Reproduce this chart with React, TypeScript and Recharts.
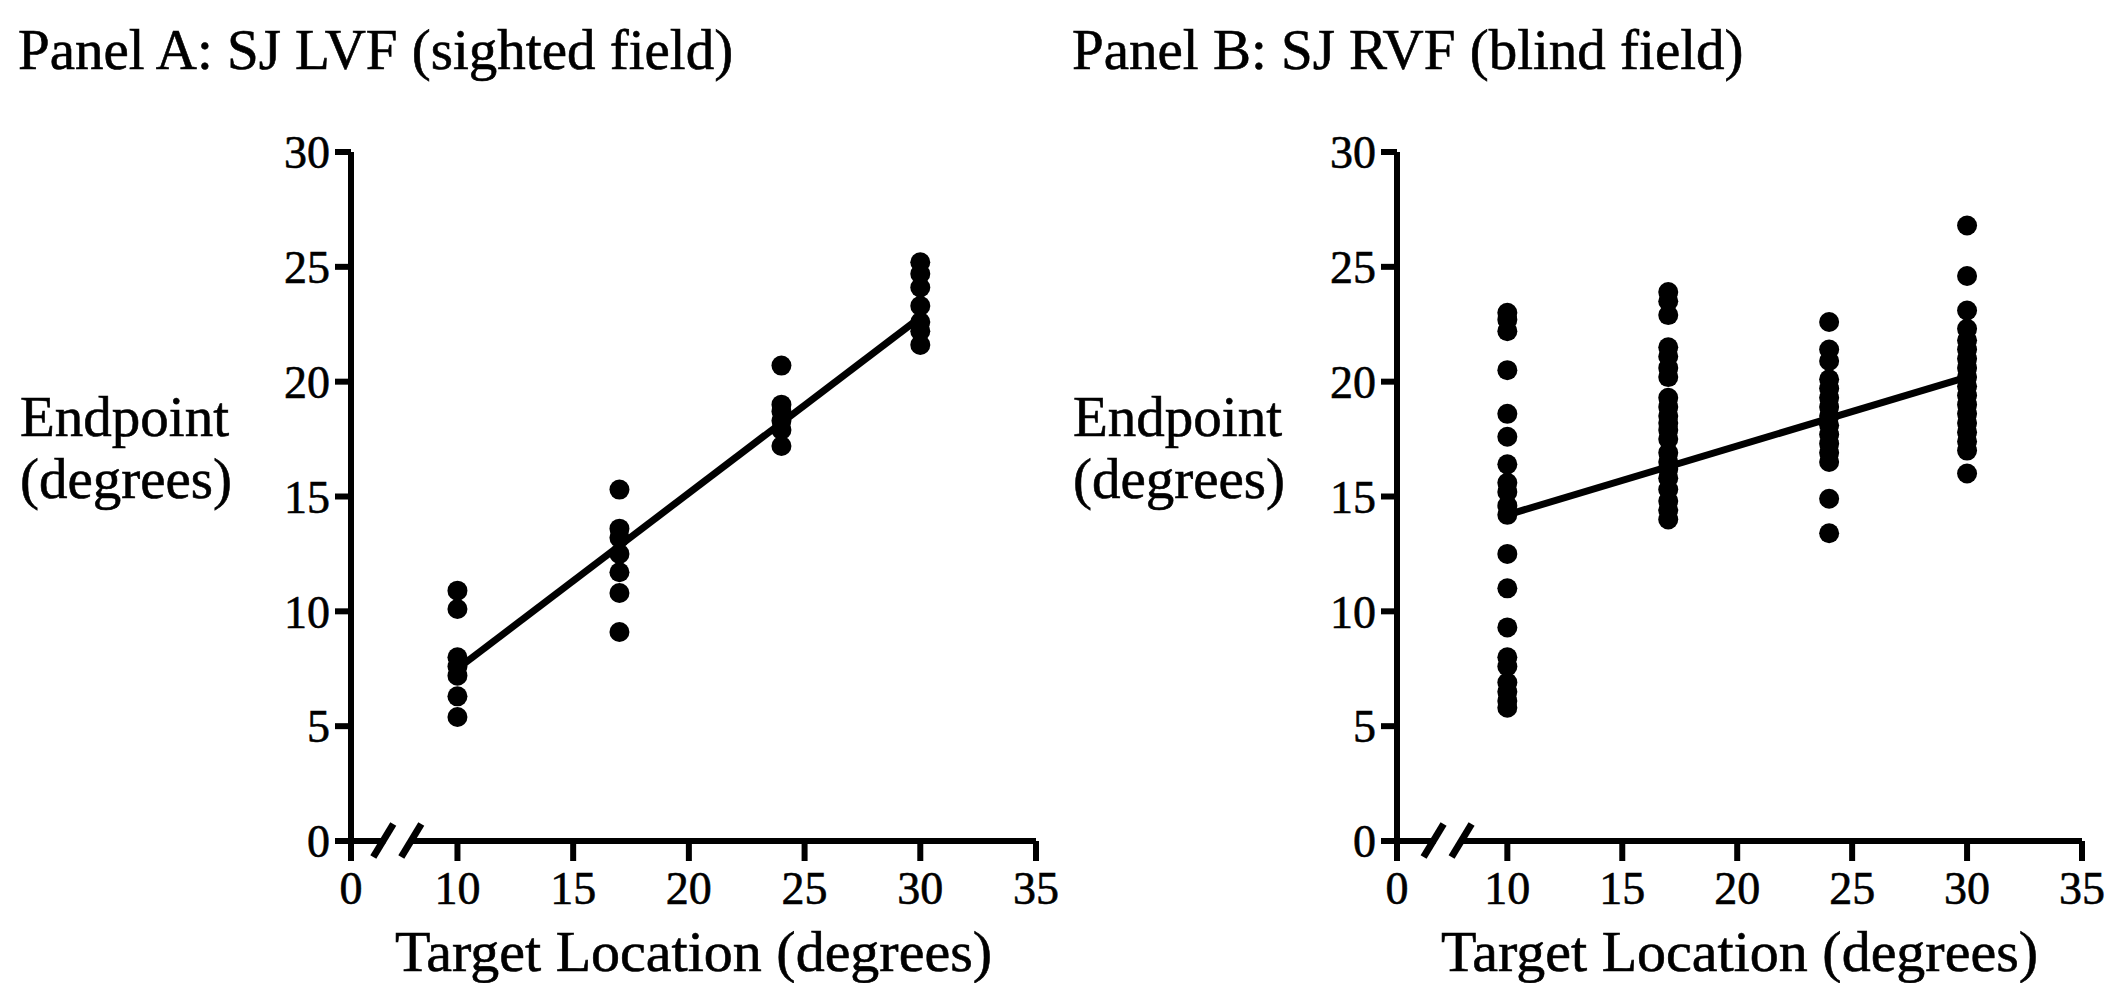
import { ScatterChart, Scatter, XAxis, YAxis, ReferenceDot, Label } from "recharts";

const FONT = '"Liberation Serif", "Times New Roman", serif';

const TARGETS = [10, 17, 24, 30];
const X_TICKS = [10, 15, 20, 25, 30, 35];
const Y_TICKS = [0, 5, 10, 15, 20, 25, 30];
const FIT_X = [10, 30];

// Panel A: sighted field, endpoints per target location
const sightedAt10 = [10.9, 10.1, 8.0, 7.6, 7.2, 6.3, 5.4];
const sightedAt17 = [15.3, 13.6, 13.2, 12.5, 11.7, 10.8, 9.1];
const sightedAt24 = [20.7, 19.0, 18.7, 18.3, 17.9, 17.2];
const sightedAt30 = [25.2, 24.7, 24.1, 23.3, 22.6, 22.2, 21.6];
const sightedFit = [7.5, 22.8];

// Panel B: blind field
const blindAt10 = [23.0, 22.7, 22.2, 20.5, 18.6, 17.6, 16.4, 15.6, 15.2, 14.6, 14.2, 12.5, 11.0, 9.3, 8.0, 7.6, 6.9, 6.5, 6.1, 5.8];
const blindAt17 = [23.9, 23.5, 22.9, 21.5, 21.1, 20.6, 20.2, 19.3, 18.9, 18.5, 18.2, 17.9, 17.5, 16.9, 16.5, 16.2, 15.8, 15.3, 14.8, 14.4, 14.0];
const blindAt24 = [22.6, 21.4, 20.9, 20.1, 19.7, 19.3, 18.9, 18.5, 18.1, 17.7, 17.3, 16.9, 16.5, 14.9, 13.4];
const blindAt30 = [26.8, 24.6, 23.1, 22.3, 21.8, 21.4, 21.0, 20.6, 20.2, 19.8, 19.4, 19.0, 18.6, 18.2, 17.8, 17.4, 17.0, 16.0];
const blindFit = [14.2, 20.2];

const toPoints = (groups: number[][]) =>
    groups.flatMap((vals, i) => vals.map((y) => ({ x: TARGETS[i], y })));

const sightedPoints = toPoints([sightedAt10, sightedAt17, sightedAt24, sightedAt30]);
const blindPoints = toPoints([blindAt10, blindAt17, blindAt24, blindAt30]);
const sightedLine = FIT_X.map((x, i) => ({ x, y: sightedFit[i] }));
const blindLine = FIT_X.map((x, i) => ({ x, y: blindFit[i] }));

const AXIS = { stroke: "#000", strokeWidth: 6 };
const TICK = { fill: "#000", fontSize: 46, fontFamily: FONT, stroke: "#000", strokeWidth: 0.6 };

const Dot = (p: any) => <circle cx={p.cx} cy={p.cy} r={10} fill="#000" />;

const BreakMark = (p: any) => {
    const { cx, cy } = p;
    return (
        <g>
            <rect x={cx - 12} y={cy - 5} width={26} height={10} fill="#fff" />
            <line x1={cx - 24} y1={cy + 16} x2={cx - 4} y2={cy - 17} stroke="#000" strokeWidth={7} />
            <line x1={cx + 4} y1={cy + 16} x2={cx + 24} y2={cy - 17} stroke="#000" strokeWidth={7} />
        </g>
    );
};

function Panel({ points, line, xBreak, width, margin }: any) {
    return (
        <ScatterChart width={width} height={983} margin={margin}>
            <XAxis
                type="number"
                dataKey="x"
                domain={[xBreak, 35]}
                ticks={[xBreak, ...X_TICKS]}
                tickFormatter={(v) => (v === xBreak ? "0" : String(v))}
                allowDataOverflow
                interval={0}
                height={60}
                tickSize={20}
                tickMargin={10}
                axisLine={AXIS}
                tickLine={AXIS}
                tick={TICK}
            >
                <Label
                    value="Target Location (degrees)"
                    position="bottom"
                    offset={29}
                    fill="#000"
                    stroke="#000"
                    strokeWidth={0.6}
                    fontSize={58}
                    fontFamily={FONT}
                />
            </XAxis>
            <YAxis
                type="number"
                dataKey="y"
                domain={[0, 30]}
                ticks={Y_TICKS}
                interval={0}
                width={70}
                tickSize={16}
                tickMargin={5}
                axisLine={AXIS}
                tickLine={AXIS}
                tick={TICK}
            />
            <Scatter data={points} shape={Dot} isAnimationActive={false} />
            <Scatter
                data={line}
                line={{ stroke: "#000", strokeWidth: 7 }}
                shape={() => <g />}
                isAnimationActive={false}
            />
            <ReferenceDot x={7.4} y={0} shape={BreakMark} ifOverflow="visible" />
        </ScatterChart>
    );
}

const textStyle = {
    position: "absolute" as const,
    fontFamily: FONT,
    color: "#000",
    whiteSpace: "nowrap" as const,
    WebkitTextStroke: "0.6px #000",
};

export default function App() {
    return (
        <div style={{ position: "absolute", left: 0, top: 0, width: 2110, height: 983, background: "#fff", overflow: "hidden" }}>
            <div style={{ ...textStyle, left: 18, top: 21, fontSize: 57, lineHeight: "57px" }}>Panel A: SJ LVF (sighted field)</div>
            <div style={{ ...textStyle, left: 1072, top: 21, fontSize: 57, lineHeight: "57px" }}>Panel B: SJ RVF (blind field)</div>
            <div style={{ ...textStyle, left: 20, top: 386, fontSize: 57, lineHeight: "62px" }}>
                Endpoint<br />(degrees)
            </div>
            <div style={{ ...textStyle, left: 1073, top: 386, fontSize: 57, lineHeight: "62px" }}>
                Endpoint<br />(degrees)
            </div>
            <div style={{ position: "absolute", left: 0, top: 0 }}>
                <Panel
                    points={sightedPoints}
                    line={sightedLine}
                    xBreak={5.4}
                    width={1060}
                    margin={{ top: 152, right: 24, bottom: 82, left: 281 }}
                />
            </div>
            <div style={{ position: "absolute", left: 1060, top: 0 }}>
                <Panel
                    points={blindPoints}
                    line={blindLine}
                    xBreak={5.2}
                    width={1050}
                    margin={{ top: 152, right: 28, bottom: 82, left: 267 }}
                />
            </div>
        </div>
    );
}
